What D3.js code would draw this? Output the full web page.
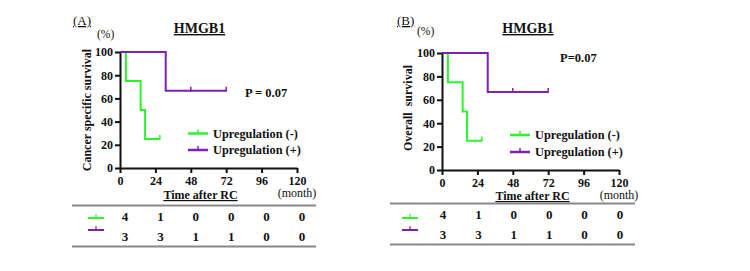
<!DOCTYPE html>
<html>
<head>
<meta charset="utf-8">
<script src="https://cdn.jsdelivr.net/npm/d3@7"></script>
<style>
  body { margin: 0; background: #fff; }
  svg text { font-family: "Liberation Serif", "Times New Roman", serif; font-weight: bold; fill: #111; }
  .axis path, .axis line { stroke: #111; stroke-width: 2px; }
  .axis text { font-size: 12px; }
</style>
</head>
<body>
<script>
// data
const months = [0, 24, 48, 72, 96, 120]
const yTicks = [0, 20, 40, 60, 80, 100]
const negTime = [0, 4, 14, 17, 27]
const negSurv = [100, 75, 50, 25, 25]
const negCensor = [27]
const posTime = [0, 31, 72]
const posSurv = [100, 66.7, 66.7]
const posCensor = [48, 72]
const negAtRisk = [4, 1, 0, 0, 0, 0]
const posAtRisk = [3, 3, 1, 1, 0, 0]
const legendLabels = ['Upregulation (-)', 'Upregulation (+)']

const green = '#2cf52c'
const purple = '#7d22b0'

const svg = d3.select('body').append('svg').attr('width', 750).attr('height', 271)

function panel(cfg) {
  var x = d3.scaleLinear().domain([0, 120]).range([cfg.x0, cfg.x1])
  var y = d3.scaleLinear().domain([0, 100]).range([cfg.y0, cfg.y1])
  var g = svg.append('g')

  g.append('g').attr('class', 'axis').attr('transform', `translate(${cfg.x0}, 0)`)
    .call(d3.axisLeft(y).tickValues(yTicks).tickSize(5).tickPadding(2).tickSizeOuter(0))
  g.append('g').attr('class', 'axis').attr('transform', `translate(0, ${cfg.y0})`)
    .call(d3.axisBottom(x).tickValues(months).tickSize(5).tickPadding(3).tickSizeOuter(0))
  g.selectAll('.axis text').style('font-size', '12px')

  var line = d3.line().x(d => x(d[0])).y(d => y(d[1])).curve(d3.curveStepAfter)
  var series = [
    { t: negTime, s: negSurv, c: negCensor, color: green },
    { t: posTime, s: posSurv, c: posCensor, color: purple }
  ]
  series.forEach(sr => {
    var pts = sr.t.map((t, i) => [t, sr.s[i]])
    var at = d => y(d3.min(pts.filter(p => p[0] <= d), p => p[1]))
    g.append('path').attr('d', line(pts)).attr('fill', 'none')
      .attr('stroke', sr.color).attr('stroke-width', 2)
    g.selectAll(null).data(sr.c).enter().append('line')
      .attr('x1', d => x(d)).attr('x2', d => x(d))
      .attr('y1', d => at(d) - 4).attr('y2', d => at(d) + 1)
      .attr('stroke', sr.color).attr('stroke-width', 1.5)
  })

  // legend
  legendLabels.forEach((lab, i) => {
    var ly = cfg.legY + i * cfg.legDy
    var col = i === 0 ? green : purple
    g.append('line').attr('x1', cfg.legX).attr('x2', cfg.legX + 20).attr('y1', ly).attr('y2', ly)
      .attr('stroke', col).attr('stroke-width', 2.5)
    g.append('line').attr('x1', cfg.legX + 10).attr('x2', cfg.legX + 10).attr('y1', ly - 4).attr('y2', ly)
      .attr('stroke', col).attr('stroke-width', 1.5)
    g.append('text').attr('x', cfg.legX + 25).attr('y', ly + 4).style('font-size', '12.3px').text(lab)
  })

  g.append('text').attr('x', cfg.pX).attr('y', cfg.pY).style('font-size', '12.5px').text(cfg.p)
  g.append('text').attr('x', cfg.titleX).attr('y', 33).attr('text-anchor', 'middle')
    .style('font-size', '14px').style('text-decoration', 'underline').text('HMGB1')
  g.append('text').attr('x', cfg.tagX).attr('y', 25).style('font-size', '13px').style('font-weight', 'normal')
    .style('text-decoration', 'underline').text(cfg.tag)
  g.append('text').attr('x', cfg.pctX).attr('y', cfg.pctY).style('font-size', '11.5px').style('font-weight', 'normal').text('(%)')
  g.append('text').attr('transform', `translate(${cfg.ylabX}, ${cfg.ylabY}) rotate(-90)`)
    .attr('text-anchor', 'middle').style('font-size', '12px').style('white-space', 'pre').text(cfg.ylab)
  g.append('text').attr('x', cfg.timeX).attr('y', cfg.timeY).attr('text-anchor', 'middle')
    .style('font-size', '12px').style('text-decoration', 'underline').text('Time after RC')
  g.append('text').attr('x', x(120)).attr('y', cfg.monthY).attr('text-anchor', 'middle')
    .style('font-size', '12px').style('font-weight', 'normal').text('(month)')

  // number at risk table
  ;[0, 41].forEach(dy => {
    g.append('line').attr('x1', cfg.tL).attr('x2', cfg.tR).attr('y1', cfg.tTop + dy).attr('y2', cfg.tTop + dy)
      .attr('stroke', '#888').attr('stroke-width', 2)
  })
  ;[negAtRisk, posAtRisk].forEach((row, i) => {
    var ry = cfg.tTop + 15 + i * 20
    var col = i === 0 ? green : purple
    var sy = cfg.symY + i * 12
    g.append('line').attr('x1', cfg.sX).attr('x2', cfg.sX + 16).attr('y1', sy).attr('y2', sy)
      .attr('stroke', col).attr('stroke-width', 2)
    g.append('line').attr('x1', cfg.sX + 8).attr('x2', cfg.sX + 8).attr('y1', sy - 4).attr('y2', sy)
      .attr('stroke', col).attr('stroke-width', 1.2)
    g.selectAll(null).data(row).enter().append('text')
      .attr('x', (d, j) => x(months[j]) + cfg.numDx).attr('y', ry).attr('text-anchor', 'middle')
      .style('font-size', '13px').text(d => d)
  })
}

panel({ x0: 120, x1: 297, y0: 168, y1: 52, legX: 188, legY: 133.5, legDy: 16.5,
  pX: 245, pY: 97, p: 'P = 0.07', titleX: 199.5, tag: '(A)', tagX: 73,
  pctX: 97, pctY: 38, ylab: 'Cancer specific survival', ylabX: 91, ylabY: 110,
  timeX: 200.5, timeY: 199, monthY: 197, tL: 72, tR: 316, tTop: 205.5, symY: 218, sX: 88, numDx: 5 })

panel({ x0: 442, x1: 619, y0: 170, y1: 53, legX: 510, legY: 135, legDy: 17,
  pX: 560, pY: 62, p: 'P=0.07', titleX: 528, tag: '(B)', tagX: 397,
  pctX: 417, pctY: 35, ylab: 'Overall  survival', ylabX: 412, ylabY: 108,
  timeX: 532.5, timeY: 200, monthY: 199, tL: 390, tR: 635, tTop: 203.5, symY: 218, sX: 402, numDx: 1 })
</script>
</body>
</html>
